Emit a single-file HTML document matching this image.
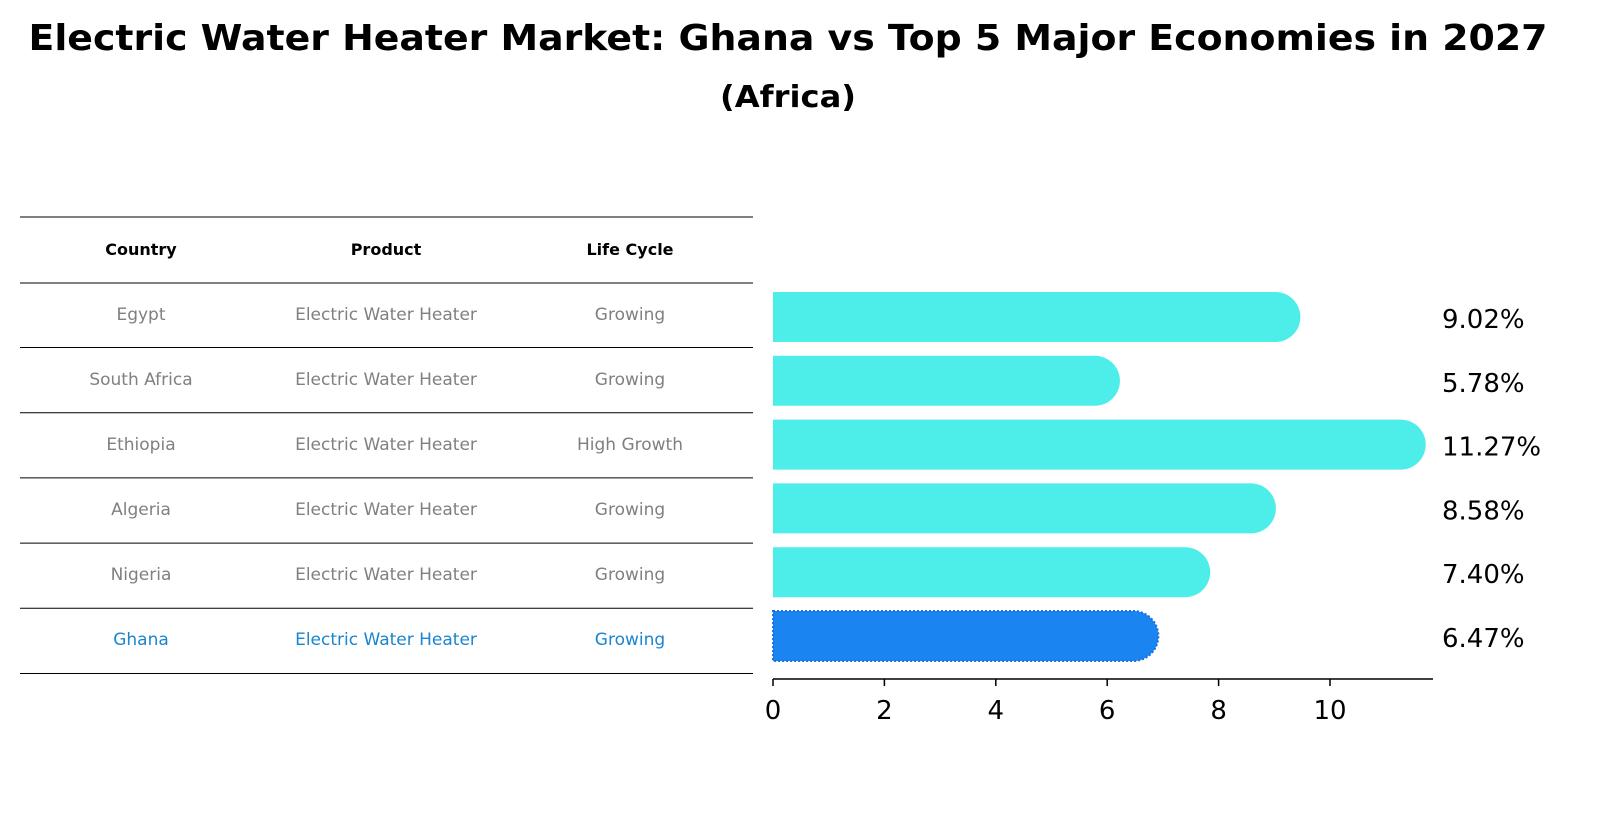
<!DOCTYPE html>
<html><head><meta charset="utf-8"><style>
body{margin:0;background:#fff;font-family:"Liberation Sans","DejaVu Sans",sans-serif;}
#root{position:relative;width:1607px;height:823px;overflow:hidden;}
</style></head><body>
<div id="root">
<svg id="svg" width="1607" height="823" font-family="DejaVu Sans, Liberation Sans, sans-serif">
<text x="788" y="50" text-anchor="middle" font-size="36" font-weight="bold" textLength="1519" lengthAdjust="spacingAndGlyphs">Electric Water Heater Market: Ghana vs Top 5 Major Economies in 2027</text>
<text x="788" y="107" text-anchor="middle" font-size="30" font-weight="bold" textLength="136" lengthAdjust="spacingAndGlyphs">(Africa)</text>
<g id="table"></g>
<g id="bars"></g>
<g id="axis"></g>
</svg>
</div>
<script>
const countries=["Egypt","South Africa","Ethiopia","Algeria","Nigeria","Ghana"];
const products=["Electric Water Heater","Electric Water Heater","Electric Water Heater","Electric Water Heater","Electric Water Heater","Electric Water Heater"];
const lifeCycles=["Growing","Growing","High Growth","Growing","Growing","Growing"];
const values=[9.02,5.78,11.27,8.58,7.40,6.47];
const valueLabels=["9.02%","5.78%","11.27%","8.58%","7.40%","6.47%"];
const ticks=[0,2,4,6,8,10];
const highlight="Ghana";

const NS="http://www.w3.org/2000/svg";
function mk(tag,attrs,parent,text){const e=document.createElementNS(NS,tag);for(const k in attrs)e.setAttribute(k,attrs[k]);if(text!==undefined)e.textContent=text;parent.appendChild(e);return e;}
const x0=773,pxPer=55.7;
const xs=v=>x0+v*pxPer;
const rowY=i=>317+i*63.8;
const barH=50;

// table
const tbl=document.getElementById('table');
const lineYs=[217,283];
for(let i=0;i<countries.length;i++)lineYs.push(347.5+i*65.2);
lineYs.forEach((y,i)=>{const l=mk('line',{x1:20,x2:753,y1:y,y2:y,stroke:'#000','stroke-width':1},tbl);

});
const cols=[141,386,630];
["Country","Product","Life Cycle"].forEach((h,j)=>{const t=mk('text',{x:cols[j],y:255,'text-anchor':'middle','font-size':16,'font-weight':'bold'},tbl,h);

});
countries.forEach((c,i)=>{const y=320+i*65;const col=c===highlight?'#1a85d0':'#808080';
[c,products[i],lifeCycles[i]].forEach((v,j)=>{const t=mk('text',{x:cols[j],y:y,'text-anchor':'middle','font-size':17,fill:col},tbl,v);

});});

// bars
const bars=document.getElementById('bars');
values.forEach((v,i)=>{const cy=rowY(i);const hi=countries[i]===highlight;const w=xs(v)-x0;const r=barH/2;
const p=mk('path',{d:`M${x0},${cy-r} H${x0+w} A${r},${r} 0 0 1 ${x0+w},${cy+r} H${x0} Z`,fill:hi?'#1a85f0':'#4deeea',stroke:hi?'#1a70e0':'none','stroke-width':hi?2:0,'stroke-dasharray':hi?'2,2':''},bars);


const t=mk('text',{x:1442,y:cy+11,'font-size':26},bars,valueLabels[i]);

});

// axis
const ax=document.getElementById('axis');
const al=mk('line',{x1:x0,x2:1433,y1:679,y2:679,stroke:'#000','stroke-width':1.5},ax);


ticks.forEach(t=>{const x=xs(t);
const tl=mk('line',{x1:x,x2:x,y1:679,y2:686,stroke:'#000','stroke-width':1.5},ax);


const tx=mk('text',{x:x,y:719,'text-anchor':'middle','font-size':26},ax,String(t));

});
</script>
</body></html>
